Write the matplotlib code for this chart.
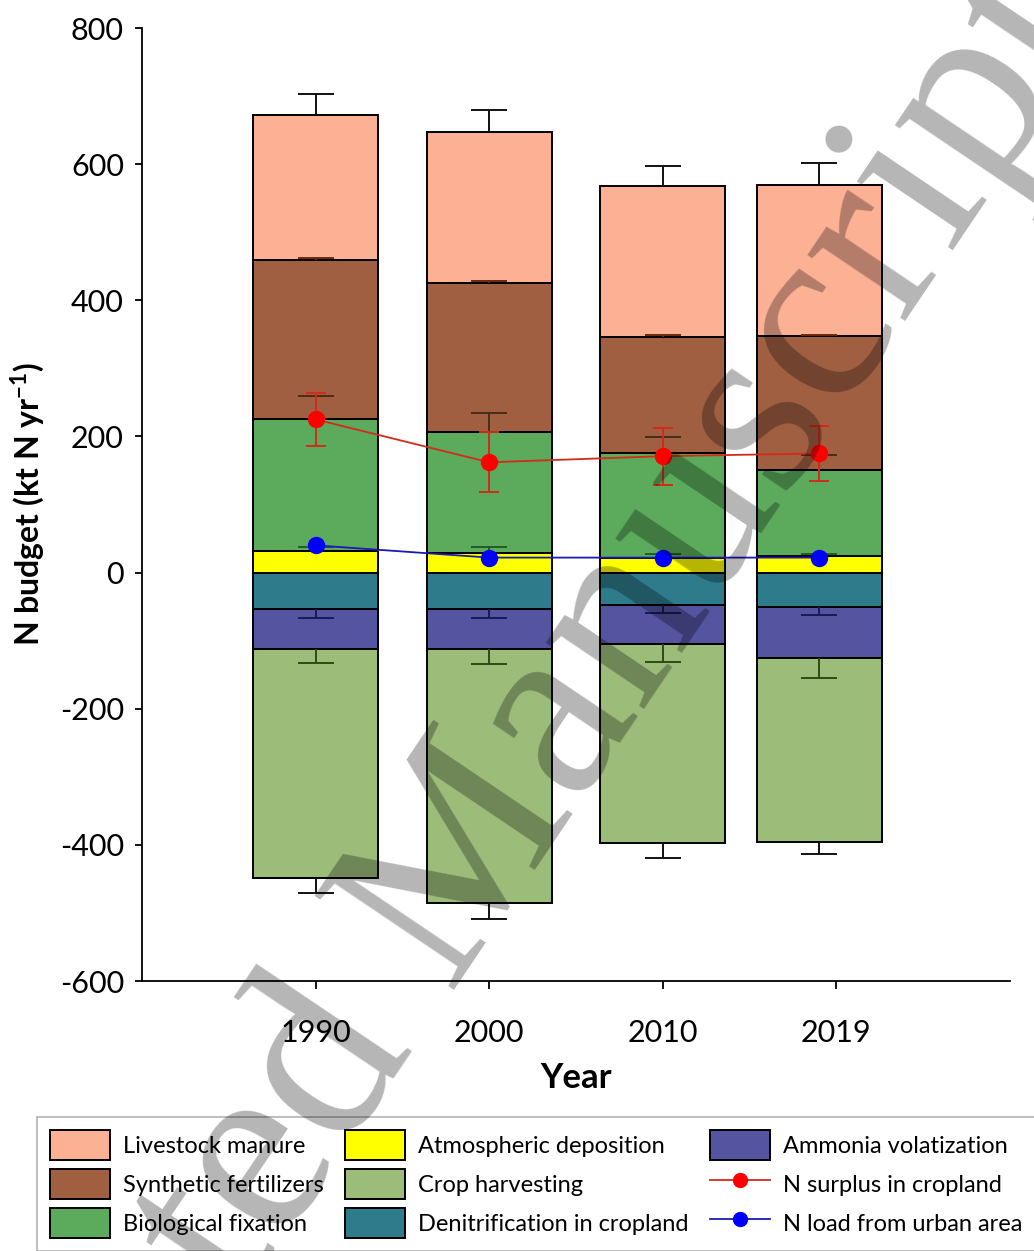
import numpy as np
import matplotlib.pyplot as plt
from matplotlib.patches import Patch
from matplotlib.lines import Line2D

plt.rcParams["font.family"] = ["Lato", "DejaVu Sans"]
plt.rcParams["mathtext.fontset"] = "custom"
plt.rcParams["mathtext.rm"] = "Lato"
plt.rcParams["mathtext.bf"] = "Lato:bold"
plt.rcParams["axes.unicode_minus"] = False

years = [1990, 2000, 2010, 2019]
tick_years = [1990, 2000, 2010, 2020]
tick_labels = ["1990", "2000", "2010", "2019"]

# inputs (kt N yr-1), stacked upward from zero
atmospheric = [31, 29, 22, 24]
biological = [195, 177, 153, 126]
synthetic = [233, 219, 171, 197]
manure = [213, 222, 222, 222]

atmospheric_err = [6, 8, 6, 4]
biological_err = [34, 28, 24, 22]
synthetic_err = [3, 3, 2.5, 2.5]
manure_err = [31, 32, 29, 32]

# outputs, stacked downward from zero
denitrification = [-54, -54, -47, -51]
ammonia = [-58, -58, -58, -74]
harvest = [-336, -373, -292, -271]

denitrification_err = [13, 13, 12, 12]
ammonia_err = [21, 23, 26, 30]
harvest_err = [22, 24, 22, 18]

surplus = [225, 162, 171, 175]
surplus_err = [39, 44, 42, 40]
urban_load = [40, 22, 22, 22]

positive = [
    ("Atmospheric deposition", atmospheric, atmospheric_err, "#ffff00", "#1f5e1f"),
    ("Biological fixation", biological, biological_err, "#5cab5c", "#4a2c18"),
    ("Synthetic fertilizers", synthetic, synthetic_err, "#a05f41", "#6b2a10"),
    ("Livestock manure", manure, manure_err, "#fcb094", "#111111"),
]
negative = [
    ("Denitrification in cropland", denitrification, denitrification_err, "#2e7b8c", "#1a1a5a"),
    ("Ammonia volatization", ammonia, ammonia_err, "#5454a0", "#2d4a14"),
    ("Crop harvesting", harvest, harvest_err, "#9cbc7a", "#111111"),
]

BAR_WIDTH = 7.2
EDGE = 1.4

fig = plt.figure(figsize=(10.34, 12.51), dpi=100)
ax = fig.add_axes([142 / 1034, 1 - 981 / 1251, 868 / 1034, 953 / 1251])


def stack(series, sign):
    base = np.zeros(len(years))
    for label, values, errors, color, err_color in series:
        values = np.asarray(values, dtype=float)
        ax.bar(years, values, bottom=base, width=BAR_WIDTH, color=color,
               edgecolor="black", linewidth=EDGE, zorder=2)
        base = base + values
        zeros = np.zeros(len(years))
        yerr = [zeros, errors] if sign > 0 else [errors, zeros]
        eb = ax.errorbar(years, base, yerr=yerr, fmt="none", ecolor=err_color,
                         elinewidth=1.4, capsize=13, capthick=1.4, zorder=5)
        # one-sided bars: drop the cap that sits on the segment edge
        for cap in eb.lines[1]:
            if np.allclose(cap.get_ydata(), base):
                cap.set_visible(False)


stack(positive, 1)
stack(negative, -1)

ax.errorbar(years, surplus, yerr=surplus_err, color="#d42a1a", lw=1.3,
            marker="o", ms=11.5, mfc="#ff0000", mec="#ff0000",
            ecolor="#d42a1a", elinewidth=1.4, capsize=7, capthick=1.4, zorder=6)
ax.plot(years, urban_load, color="#1a1ab4", lw=1.3, marker="o", ms=11.5,
        mfc="#0000ff", mec="#0000ff", zorder=6)

ax.set_xlim(1980, 2030)
ax.set_ylim(-600, 800)
ax.set_xticks(tick_years)
ax.set_xticklabels(tick_labels)
ax.set_yticks(np.arange(-600, 801, 200))

for side in ("top", "right"):
    ax.spines[side].set_visible(False)
for side in ("left", "bottom"):
    ax.spines[side].set_linewidth(1.3)

ax.tick_params(axis="y", direction="out", length=5, width=1.3, labelsize=22, pad=8)
ax.tick_params(axis="x", direction="out", length=6, width=1.3, labelsize=22, pad=21)

ax.set_xlabel("Year", fontsize=25, fontweight="bold", va="top")
ax.xaxis.set_label_coords(0.5, -0.085)
ax.set_ylabel(r"N budget (kt N yr$^{\mathbf{-1}}$)", fontsize=23, fontweight="bold")
ax.yaxis.set_label_coords(-0.1094, 0.5)

order = ["Livestock manure", "Synthetic fertilizers", "Biological fixation",
         "Atmospheric deposition", "Crop harvesting", "Denitrification in cropland",
         "Ammonia volatization"]
colors = {label: color for label, _, _, color, _ in positive + negative}
handles = [Patch(facecolor=colors[k], edgecolor="black", linewidth=1.4) for k in order]
handles += [
    Line2D([], [], color="#d42a1a", lw=1.3, marker="o", ms=10, mfc="#ff0000", mec="#ff0000"),
    Line2D([], [], color="#1a1ab4", lw=1.3, marker="o", ms=10, mfc="#0000ff", mec="#0000ff"),
]
labels = order + ["N surplus in cropland", "N load from urban area"]

leg = fig.legend(handles, labels, loc="upper left",
                 bbox_to_anchor=(37 / 1034, 1 - 1117 / 1251), ncol=3,
                 fontsize=17, frameon=True, fancybox=False, borderaxespad=0,
                 borderpad=0.55, handlelength=2.54, handleheight=1.58,
                 handletextpad=0.55, labelspacing=0.38, columnspacing=0.9)
leg.get_frame().set_edgecolor("#a0a0a0")
leg.get_frame().set_linewidth(1.2)

fig.text(437 / 1034, 1 - 905 / 1251, "Accepted Manuscript", fontsize=184,
         family=["Liberation Serif", "DejaVu Serif"], color="black", alpha=0.29,
         rotation=56, rotation_mode="anchor", ha="center", va="center", zorder=20)

fig.savefig("out.png", dpi=100, facecolor="white")
